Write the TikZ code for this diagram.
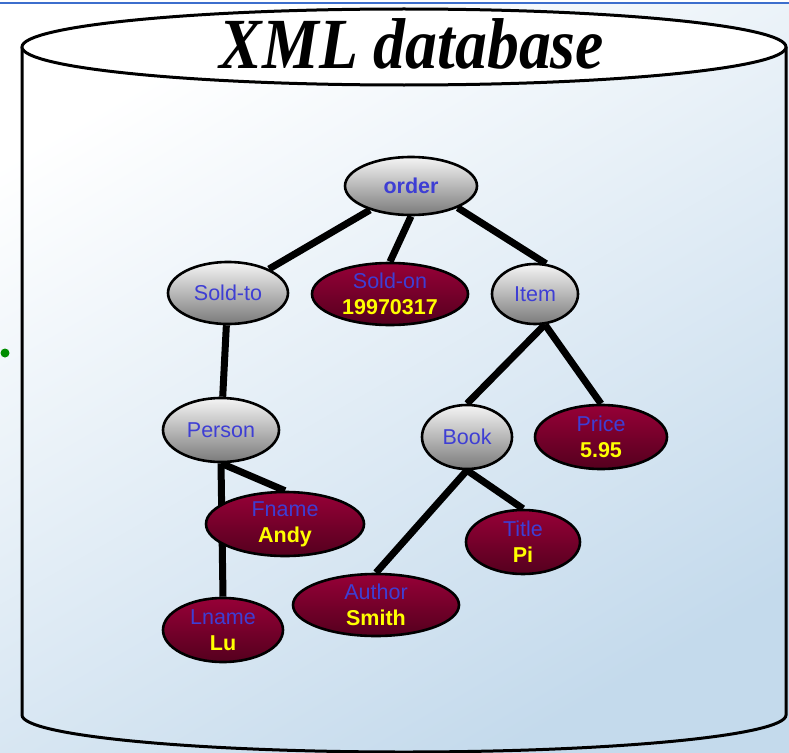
\documentclass[tikz,border=0pt]{standalone}
\usepackage{fontspec}
\setmainfont{Liberation Sans}
\newfontfamily\titlefont{Liberation Serif}
\usepackage{xcolor}
\usepackage{tikz}
\usetikzlibrary{shapes.geometric}
\definecolor{bgblue}{RGB}{196,218,236}
\definecolor{lineblue}{RGB}{60,110,205}
\definecolor{tagblue}{RGB}{62,62,212}
\definecolor{valyellow}{RGB}{255,255,0}
\definecolor{maroontop}{RGB}{150,0,55}
\definecolor{maroonbot}{RGB}{85,0,30}
\pgfdeclarelayer{back}
\pgfdeclarelayer{edges}
\pgfsetlayers{back,edges,main}

\begin{document}
\begin{tikzpicture}[
  x=1pt, y=-1pt,
  elem/.style={ellipse, draw=black, line width=2.6pt, inner sep=0pt,
               align=center, font=\fontsize{21.5}{26}\selectfont, text=tagblue},
  gnode/.style={elem, top color=black!4, bottom color=black!52},
  vnode/.style={elem, top color=maroontop, bottom color=maroonbot},
  link/.style={line width=7pt, black},
  cyl/.style={line width=3pt, black}
]
\useasboundingbox (0,0) rectangle (789,752);
\begin{pgfonlayer}{back}
\shade[top color=white, bottom color=bgblue, shading angle=30] (0,0) rectangle (789,752);
\fill[white] (0,0) rectangle (789,3);
\draw[lineblue, line width=2pt] (0,3) -- (789,3);
\fill[green!55!black] (5,353) circle (4.5pt);
\draw[cyl] (22,47) -- (22,715) arc[start angle=180, end angle=360, x radius=382pt, y radius=37pt] -- (786,47);
\draw[cyl, fill=white] (404,47) ellipse [x radius=382pt, y radius=38pt];
\end{pgfonlayer}
\node[anchor=base, font=\titlefont\bfseries\itshape\fontsize{72}{72}\selectfont] (head) at (412,69) {\scalebox{0.885}[1]{XML database}};

\node[gnode, minimum width=132, minimum height=58] (order) at (411,186) {\textbf{order}};
\node[gnode, minimum width=120, minimum height=62] (soldto) at (228,293) {Sold-to};
\node[vnode, minimum width=156, minimum height=62] (soldon) at (390,294) {Sold-on\\\textbf{\textcolor{valyellow}{19970317}}};
\node[gnode, minimum width=86, minimum height=60] (item) at (535,294) {Item};
\node[gnode, minimum width=116, minimum height=64] (person) at (221,430) {Person};
\node[gnode, minimum width=90, minimum height=64] (book) at (467,437) {Book};
\node[vnode, minimum width=132, minimum height=64] (price) at (601,437) {Price\\\textbf{\textcolor{valyellow}{5.95}}};
\node[vnode, minimum width=158, minimum height=64] (fname) at (285,524) {Fname\\\textbf{\textcolor{valyellow}{Andy}}};
\node[vnode, minimum width=114, minimum height=64] (title) at (523,542) {Title\\\textbf{\textcolor{valyellow}{Pi}}};
\node[vnode, minimum width=166, minimum height=62] (author) at (376,605) {Author\\\textbf{\textcolor{valyellow}{Smith}}};
\node[vnode, minimum width=120, minimum height=64] (lname) at (223,630) {Lname\\\textbf{\textcolor{valyellow}{Lu}}};

\begin{pgfonlayer}{edges}
\draw[link] (order) -- (soldto);
\draw[link] (order.south) -- (soldon.north);
\draw[link] (order.-25) -- (item.70);
\draw[link] (soldto) -- (person);
\draw[link] (item.-72) -- (book.north);
\draw[link] (item.-72) -- (price.north);
\draw[link] (person.south) -- (fname.north);
\draw[link] (person.south) -- (lname.north);
\draw[link] (book.south) -- (author.north);
\draw[link] (book.south) -- (title.north);
\end{pgfonlayer}
\end{tikzpicture}
\end{document}
